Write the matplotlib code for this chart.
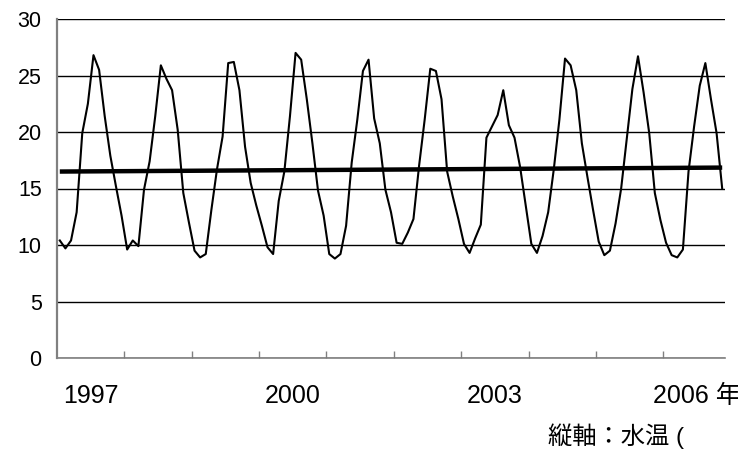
import numpy as np
import matplotlib
matplotlib.use("Agg")
import matplotlib.pyplot as plt

plt.rcParams['font.family'] = ['Liberation Sans', 'Noto Sans CJK JP']

# monthly water temperature, Jan 1997 .. Nov 2006
temps = [
    10.4, 9.7, 10.4, 12.9, 19.9, 22.5, 26.8, 25.5, 21.4, 17.9, 15.2, 12.6,   # 1997
    9.6, 10.4, 9.9, 14.9, 17.4, 21.4, 25.9, 24.7, 23.7, 20.2, 14.6, 12.0,    # 1998
    9.5, 8.9, 9.2, 13.1, 16.7, 19.6, 26.1, 26.2, 23.7, 18.7, 15.5, 13.5,     # 1999
    11.7, 9.8, 9.2, 13.9, 16.5, 21.4, 27.0, 26.4, 22.9, 19.0, 14.8, 12.6,    # 2000
    9.2, 8.8, 9.2, 11.7, 17.3, 21.1, 25.4, 26.4, 21.2, 19.0, 14.9, 12.9,     # 2001
    10.2, 10.1, 11.1, 12.3, 17.0, 21.1, 25.6, 25.4, 22.9, 16.5, 14.3, 12.3,  # 2002
    10.1, 9.3, 10.6, 11.8, 19.5, 20.5, 21.5, 23.7, 20.6, 19.5, 16.9, 13.5,   # 2003
    10.1, 9.3, 10.8, 12.9, 16.7, 21.1, 26.5, 25.9, 23.7, 19.0, 16.0, 13.1,   # 2004
    10.3, 9.1, 9.5, 11.9, 15.0, 19.4, 23.8, 26.7, 23.5, 19.9, 14.6, 12.2,    # 2005
    10.2, 9.1, 8.9, 9.6, 16.5, 20.5, 24.1, 26.1, 22.9, 19.9, 15.0,           # 2006
]
trend_ends = [16.5, 16.85]

year_labels = ['1997', '2000', '2003', '2006 年']
label_years = [0, 3, 6, 9]   # year index (0 = 1997) for each label
y_ticks = [0, 5, 10, 15, 20, 25, 30]

months = np.arange(len(temps))

fig = plt.figure(figsize=(7.38, 4.5), dpi=100)
ax = fig.add_axes([57 / 738, 1 - 358 / 450, 668 / 738, 339 / 450])

ax.plot(months, temps, color='black', lw=1.5, zorder=3)
ax.plot([months[0], months[-1]], trend_ends, color='black', lw=3.2, zorder=4,
        solid_capstyle='butt')

ax.set_xlim(-0.5, len(temps) - 0.5)
ax.set_ylim(0, 30)
ax.set_yticks(y_ticks)
ax.yaxis.grid(True, color='black', lw=1.0)
ax.set_axisbelow(True)

# year boundaries as ticks, labels centred in the year
ax.set_xticks([11.5 + 12 * k for k in range(9)])
ax.tick_params(axis='x', which='major', direction='in', length=5,
               color='#808080', width=1, labelbottom=False)
ax.set_xticks([12 * y + 5.5 for y in label_years], minor=True)
ax.set_xticklabels(year_labels, minor=True, fontsize=18)
ax.tick_params(axis='x', which='minor', length=0, pad=19)
ax.tick_params(axis='y', length=0, pad=11, labelsize=15.5)

for s in ['top', 'right']:
    ax.spines[s].set_visible(False)
ax.spines['left'].set_color('#808080')
ax.spines['left'].set_linewidth(1.6)
ax.spines['bottom'].set_color('#808080')
ax.spines['bottom'].set_linewidth(1.2)

fig.text(548 / 738, 1 - 436 / 450, '縦軸：水温 (', fontsize=17.5,
         ha='left', va='center')

fig.savefig('out.png', dpi=100)
